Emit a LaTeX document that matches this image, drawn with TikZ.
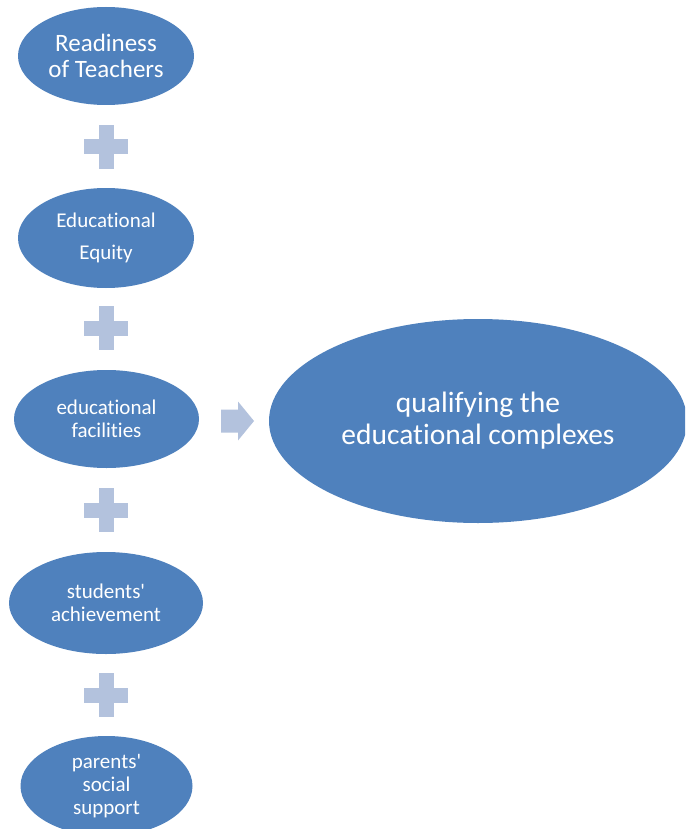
\documentclass[tikz,border=0pt]{standalone}
\usepackage{fontspec}
\setmainfont{Carlito}[Ligatures={NoCommon}]
\usetikzlibrary{shapes.geometric}
\definecolor{ellblue}{HTML}{4F81BD}
\definecolor{pluscol}{HTML}{B3C2DD}
\tikzset{
  oval/.style={ellipse, fill=ellblue, draw=none, text=white, inner sep=0pt, align=center},
  plusbar/.style={fill=pluscol, draw=none},
}
\newcommand{\plusat}[1]{%
  \fill[plusbar] ([xshift=-7.5pt,yshift=22pt]#1) rectangle ([xshift=7.5pt,yshift=-22pt]#1);
  \fill[plusbar] ([xshift=-22pt,yshift=7.5pt]#1) rectangle ([xshift=22pt,yshift=-7.5pt]#1);
}
\begin{document}
\begin{tikzpicture}[x=1pt,y=-1pt]
\useasboundingbox (0,0) rectangle (685,829);
\clip (0,0) rectangle (685,829);
\fill[white] (0,0) rectangle (685,829);

\node[oval, minimum width=176pt, minimum height=98pt, font=\fontsize{25}{26}\selectfont] (e1) at (106,56) {Readiness\\of Teachers};
\node[oval, minimum width=176pt, minimum height=100pt, font=\fontsize{21}{32}\selectfont] (e2) at (106,238) {Educational\\Equity};
\node[oval, minimum width=185pt, minimum height=98pt, font=\fontsize{21}{23}\selectfont] (e3) at (106.5,419) {educational\\facilities};
\node[oval, minimum width=194pt, minimum height=102pt, font=\fontsize{21}{23}\selectfont] (e4) at (106,603) {students\textquotesingle\\achievement};
\node[oval, minimum width=172pt, minimum height=100pt, font=\fontsize{21}{23}\selectfont] (e5) at (106.5,786) {parents\textquotesingle\\social\\support};
\node[oval, minimum width=418pt, minimum height=204pt, font=\fontsize{29.5}{32}\selectfont] (big) at (478,421) {qualifying the\\educational complexes};

\coordinate (p1) at (106,147);
\coordinate (p2) at (106,328);
\coordinate (p3) at (106,510);
\coordinate (p4) at (106,695);
\plusat{p1}
\plusat{p2}
\plusat{p3}
\plusat{p4}

\coordinate (arr) at (221,421);
\fill[plusbar] (arr) ++(0,-11.5) -- ++(17,0) -- ++(0,-8) -- ++(16,19.5) -- ++(-16,19.5) -- ++(0,-8) -- ++(-17,0) -- cycle;
\end{tikzpicture}
\end{document}
